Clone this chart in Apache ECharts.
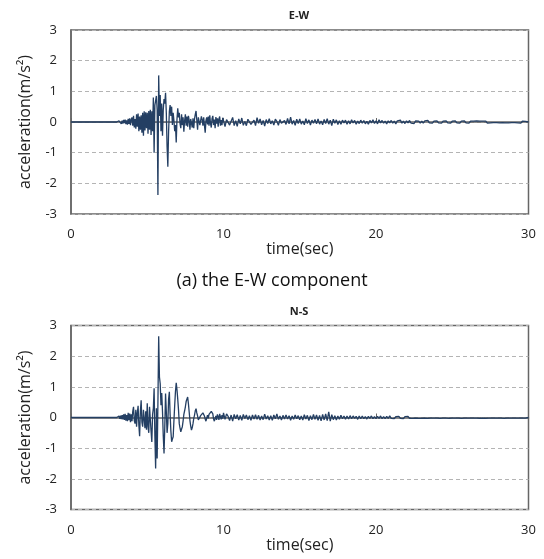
<!DOCTYPE html>
<html lang="en">
<head>
    <meta charset="UTF-8">
    <title>acceleration records</title>
    <script src="https://cdn.jsdelivr.net/npm/echarts@6/dist/echarts.min.js"></script>
    <style>
        html, body {
            margin: 0;
            padding: 0;
            background: #ffffff;
        }
        #chart {
            width: 544px;
            height: 559px;
        }
    </style>
</head>
<body>
    <div id="chart"></div>
    <script>
        // strong phase: samples every 0.05 s from 3.0 s; tail: every 0.1 s from 10.0 s
        // (trace is flat zero before 3 s)
        var strongStart = 3.0, strongDt = 0.05;
        var tailStart = 10.0, tailDt = 0.1;

        var ewStrong = [
            0.00, 0.02, -0.03, 0.04, -0.02, 0.05, -0.06, 0.04, -0.05, 0.07, -0.04, 0.08, -0.07, 0.05, -0.09, 0.10, -0.06, 0.12, -0.10, 0.08,
            0.15, -0.12, 0.20, -0.18, 0.10, -0.22, 0.25, -0.15, 0.28, -0.30, 0.18, -0.25, 0.22, -0.35, 0.30, -0.45, 0.35, -0.28, 0.32, -0.20,
            0.30, -0.38, 0.36, -0.25, 0.40, -0.42, 0.35, -0.30, 0.80, -1.00, 0.55, 0.70, 0.85, 0.40, -2.38, 1.52, 0.20, 0.88, -0.30, 0.60,
            -0.45, 0.40, 0.75, 0.60, 0.95, 0.30, -0.80, -1.46, -0.30, 0.35, 0.55, 0.20, 0.50, -0.10, 0.30, 0.05, -0.30, -0.10, -0.67, 0.10,
            0.45, 0.15, 0.30, -0.05, -0.20, 0.25, -0.10, 0.15, -0.32, 0.05, 0.25, -0.12, 0.18, -0.15, 0.20, 0.05, -0.25, 0.10, 0.15, -0.18,
            0.12, -0.20, 0.10, 0.25, 0.36, 0.05, -0.25, 0.15, 0.20, -0.10, -0.15, 0.18, 0.08, -0.12, 0.15, -0.10, -0.35, 0.05, 0.15, -0.08,
            0.18, -0.12, 0.22, -0.05, -0.18, 0.12, 0.20, -0.10, 0.08, -0.20, 0.16, -0.05, 0.12, -0.15, 0.10, 0.18, -0.12, 0.06, -0.10, 0.14
        ];

        var ewTail = [
            0.12, -0.15, 0.08, 0.14, -0.10, -0.06, 0.15, -0.12, 0.04, -0.14,
            0.10, -0.06, 0.13, -0.11, 0.02, -0.12, 0.09, 0.11, -0.08, -0.04,
            0.06, -0.12, 0.14, -0.04, 0.10, -0.09, 0.05, -0.13, 0.08, -0.05,
            0.11, -0.06, 0.04, -0.10, 0.09, 0.02, -0.11, 0.08, -0.04, -0.09,
            0.05, -0.08, 0.12, -0.06, 0.16, -0.07, 0.05, -0.11, 0.09, -0.05,
            0.10, -0.07, 0.03, -0.09, 0.11, -0.05, 0.07, -0.10, 0.06, -0.04,
            0.08, -0.06, 0.10, -0.07, 0.03, -0.09, 0.08, -0.05, 0.11, -0.07,
            0.06, -0.12, 0.09, -0.04, 0.07, -0.08, 0.04, -0.07, 0.06, -0.03,
            0.06, -0.07, 0.04, -0.06, 0.07, -0.03, 0.05, -0.07, 0.03, -0.05,
            0.06, -0.04, 0.05, -0.06, 0.02, -0.07, 0.05, -0.03, 0.07, -0.05,
            0.04, -0.06, 0.07, -0.03, 0.05, -0.04, 0.03, -0.06, 0.04, -0.03,
            0.05, -0.04, 0.03, -0.06, 0.04, -0.02, 0.06, -0.04, 0.03, -0.05,
            0.04, -0.03, 0.05, -0.04, 0.02, -0.05, 0.04, -0.02, 0.03, -0.04,
            0.03, -0.04, 0.04, -0.02, 0.05, -0.03, 0.02, -0.04, 0.03, -0.03,
            0.04, -0.03, 0.02, -0.04, 0.03, -0.02, 0.04, -0.03, 0.02, -0.04,
            0.03, -0.02, 0.04, -0.03, 0.02, -0.04, 0.03, -0.02, 0.04, -0.03,
            0.02, -0.04, 0.03, -0.02, 0.03, -0.03, 0.04, -0.02, 0.03, -0.03,
            0.03, -0.02, 0.03, -0.04, 0.02, -0.03, 0.03, -0.02, 0.04, -0.02,
            0.02, -0.03, 0.03, -0.02, 0.04, -0.03, 0.02, -0.03, 0.03, -0.02,
            0.03, -0.02, 0.02, -0.03, 0.02, -0.04, 0.03, -0.02, 0.02, -0.02,
            0.00
        ];

        var nsStrong = [
            0.00, 0.02, -0.03, 0.05, -0.04, 0.06, -0.05, 0.08, -0.06, 0.10, -0.08, 0.12, -0.10, 0.08, -0.12, 0.15, -0.09, 0.13, -0.15, 0.10,
            -0.12, 0.20, 0.35, -0.10, -0.20, 0.25, -0.30, 0.15, 0.38, -0.25, -0.61, 0.20, 0.56, -0.15, -0.30, 0.25, 0.30, -0.35, 0.20, -0.40,
            0.46, -0.30, -0.50, 0.35, 0.40, -0.45, -0.80, 0.10, 0.30, 0.95, -0.60, -1.66, 0.30, -1.34, 0.50, 2.65, 1.32, 1.10, 0.40, 0.80,
            0.20, -0.60, -1.17, -0.30, 0.78, 0.20, -0.50, -0.20, 0.60, 0.84, 0.10, -0.45, -0.79, -0.70, -0.63, -0.10, 0.40, 0.85, 1.13, 0.90,
            0.60, 0.25, -0.20, -0.35, -0.47, -0.38, -0.30, -0.12, 0.10, 0.22, 0.35, 0.52, 0.58, 0.67, 0.45, 0.18, -0.10, -0.28, -0.41, -0.33,
            -0.20, -0.03, 0.08, 0.22, 0.29, 0.15, 0.05, -0.08, -0.14, -0.05, 0.06, 0.12, 0.04, 0.15, 0.19, 0.05, -0.05, -0.12, -0.02, 0.08,
            -0.03, 0.10, 0.15, 0.08, 0.20, 0.26, 0.12, -0.05, -0.12, -0.06, 0.05, -0.08, 0.10, 0.03, -0.08, 0.12, 0.02, -0.06, 0.08, -0.04
        ];

        var nsTail = [
            0.15, -0.06, 0.12, 0.04, -0.10, 0.08, -0.12, 0.10, -0.04, 0.09,
            -0.08, 0.07, -0.09, 0.10, -0.03, 0.08, -0.07, 0.06, -0.09, 0.08,
            -0.05, 0.09, -0.06, 0.07, -0.08, 0.05, -0.07, 0.11, -0.05, 0.06,
            -0.08, 0.06, -0.09, 0.08, -0.04, 0.12, -0.06, 0.05, -0.08, 0.07,
            -0.05, 0.08, -0.05, 0.06, -0.09, 0.05, -0.06, 0.08, -0.04, 0.06,
            -0.07, 0.05, -0.08, 0.09, -0.05, 0.07, -0.10, 0.06, -0.07, 0.10,
            -0.06, 0.08, -0.09, 0.07, -0.11, 0.10, -0.08, 0.12, -0.10, 0.18,
            -0.12, 0.09, -0.07, 0.06, -0.08, 0.05, -0.06, 0.07, -0.04, 0.05,
            -0.06, 0.05, -0.05, 0.06, -0.04, 0.05, -0.03, 0.04, -0.06, 0.05,
            -0.04, 0.05, -0.04, 0.03, -0.05, 0.04, -0.03, 0.05, -0.04, 0.03,
            -0.04, 0.04, -0.03, 0.05, -0.04, 0.03, -0.04, 0.04, -0.03, 0.05,
            -0.03, 0.03, -0.04, 0.03, -0.02, 0.04, -0.03, 0.02, -0.04, 0.03,
            -0.02, 0.04, -0.03, 0.02, -0.03, 0.03, -0.02, 0.04, -0.03, 0.02,
            -0.03, 0.03, -0.02, 0.03, -0.03, 0.02, -0.02, 0.03, -0.02, 0.04,
            -0.02, 0.02, -0.03, 0.02, -0.02, 0.03, -0.02, 0.02, -0.03, 0.02,
            -0.02, 0.03, -0.02, 0.02, -0.02, 0.02, -0.03, 0.02, -0.02, 0.03,
            -0.02, 0.02, -0.02, 0.03, -0.02, 0.02, -0.02, 0.02, -0.03, 0.02,
            -0.02, 0.02, -0.03, 0.02, -0.02, 0.02, -0.02, 0.03, -0.02, 0.02,
            -0.02, 0.02, -0.02, 0.02, -0.03, 0.02, -0.02, 0.02, -0.02, 0.02,
            -0.02, 0.02, -0.02, 0.02, -0.02, 0.02, -0.02, 0.02, -0.02, 0.01,
            0.00
        ];

        var panelTitles = ['E-W', 'N-S'];
        var captionText = '(a) the E-W component';

        function toPairs(strong, tail) {
            var pairs = [[0, 0]];
            strong.forEach(function (v, i) {
                pairs.push([+(strongStart + i * strongDt).toFixed(3), v]);
            });
            tail.forEach(function (v, i) {
                pairs.push([+(tailStart + i * tailDt).toFixed(3), v]);
            });
            return pairs;
        }

        var font = '"Open Sans", "Noto Sans", sans-serif';
        var gridTops = [30, 325.5];

        function xAxisFor(idx) {
            return {
                gridIndex: idx,
                type: 'value',
                min: 0,
                max: 30,
                interval: 10,
                name: 'time(sec)',
                nameLocation: 'middle',
                nameGap: 27,
                nameTextStyle: { fontFamily: font, fontSize: 16, color: '#222' },
                axisLine: { lineStyle: { color: '#666', width: 1.5 } },
                axisTick: { inside: true, length: 4, lineStyle: { color: '#666' } },
                axisLabel: { margin: 14, fontFamily: font, fontSize: 13, color: '#222' },
                splitLine: { show: false }
            };
        }

        function yAxisFor(idx) {
            return {
                gridIndex: idx,
                type: 'value',
                min: -3,
                max: 3,
                interval: 1,
                name: 'acceleration(m/s²)',
                nameLocation: 'middle',
                nameRotate: 90,
                nameGap: 38,
                nameTextStyle: { fontFamily: font, fontSize: 16, color: '#222' },
                axisLine: { show: true, onZero: false, lineStyle: { color: '#666', width: 1.5 } },
                axisTick: { show: false },
                axisLabel: { margin: 14, fontFamily: font, fontSize: 13, color: '#222' },
                splitLine: { show: true, lineStyle: { color: '#b4b4b4', type: [4, 3], width: 1 } }
            };
        }

        var chart = echarts.init(document.getElementById('chart'), null, { renderer: 'canvas' });

        chart.setOption({
            animation: false,
            backgroundColor: '#ffffff',
            grid: gridTops.map(function (top) {
                return {
                    left: 71, right: 15.5, top: top, height: 184,
                    show: true, borderColor: '#666', borderWidth: 1.5,
                    containLabel: false
                };
            }),
            xAxis: [xAxisFor(0), xAxisFor(1)],
            yAxis: [yAxisFor(0), yAxisFor(1)],
            graphic: [
                {
                    type: 'text', x: 299, y: 16,
                    style: { text: panelTitles[0], fontFamily: font, fontSize: 11, fontWeight: 'bold',
                             fill: '#222', align: 'center', verticalAlign: 'middle' }
                },
                {
                    type: 'text', x: 272, y: 281,
                    style: { text: captionText, fontFamily: font, fontSize: 18,
                             fill: '#111', align: 'center', verticalAlign: 'middle' }
                },
                {
                    type: 'text', x: 299, y: 311.5,
                    style: { text: panelTitles[1], fontFamily: font, fontSize: 11, fontWeight: 'bold',
                             fill: '#222', align: 'center', verticalAlign: 'middle' }
                }
            ],
            series: [
                {
                    type: 'line', xAxisIndex: 0, yAxisIndex: 0,
                    data: toPairs(ewStrong, ewTail),
                    showSymbol: false, symbol: 'none',
                    lineStyle: { color: '#243f63', width: 1.3 }
                },
                {
                    type: 'line', xAxisIndex: 1, yAxisIndex: 1,
                    data: toPairs(nsStrong, nsTail),
                    showSymbol: false, symbol: 'none',
                    lineStyle: { color: '#243f63', width: 1.3 }
                }
            ]
        });
    </script>
</body>
</html>
